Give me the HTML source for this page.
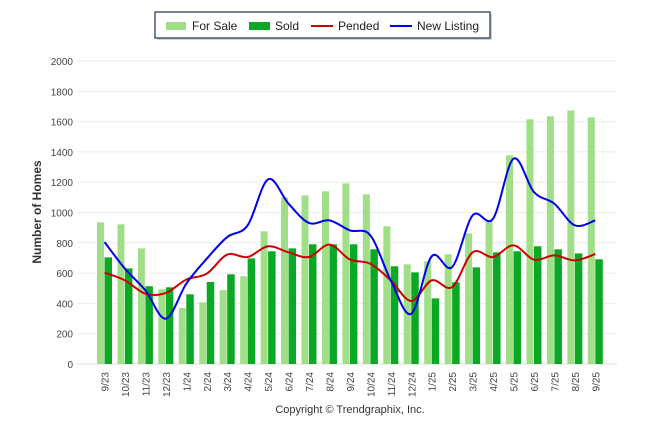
<!DOCTYPE html>
<html><head><meta charset="utf-8"><style>
body{margin:0;background:#fff;width:646px;height:434px;overflow:hidden;font-family:"Liberation Sans",sans-serif;}
</style></head><body>
<svg id="chart" width="646" height="434" xmlns="http://www.w3.org/2000/svg" font-family="Liberation Sans, sans-serif">
<g>
<rect x="157" y="14" width="335" height="26" fill="#9ba3b0" opacity="0.5"/>
<rect x="155" y="12" width="335" height="26" fill="#fff" stroke="#1f2f4f" stroke-width="1.2"/>
<rect x="166" y="22" width="20" height="8" fill="#a0df88"/>
<text x="192" y="30" font-size="12" fill="#222">For Sale</text>
<rect x="249" y="22" width="21" height="8" fill="#0aa824"/>
<text x="275" y="30" font-size="12" fill="#222">Sold</text>
<line x1="311" y1="26" x2="333" y2="26" stroke="#cc0000" stroke-width="2"/>
<text x="338" y="30" font-size="12" fill="#222">Pended</text>
<line x1="390" y1="26" x2="412" y2="26" stroke="#0000ee" stroke-width="2"/>
<text x="417" y="30" font-size="12" fill="#222">New Listing</text>
</g>
<text transform="translate(41,212) rotate(-90)" text-anchor="middle" font-size="12" font-weight="bold" fill="#333">Number of Homes</text>
<text x="350" y="413" text-anchor="middle" font-size="11" fill="#333">Copyright © Trendgraphix, Inc.</text>
<g id="grid"></g><g id="bars"></g><g id="lines"></g><g id="xl"></g>
</svg>
<script>
const categories=["9/23","10/23","11/23","12/23","1/24","2/24","3/24","4/24","5/24","6/24","7/24","8/24","9/24","10/24","11/24","12/24","1/25","2/25","3/25","4/25","5/25","6/25","7/25","8/25","9/25"];
const forSale=[935,922,763,493,370,407,488,579,876,1100,1113,1140,1192,1120,909,658,678,724,862,948,1377,1615,1635,1674,1628];
const sold=[704,631,513,506,460,541,592,697,744,763,790,790,790,757,645,605,433,539,638,737,744,777,757,730,691];
const pended=[603,552,464,469,557,596,722,706,777,737,706,788,690,662,552,416,552,508,737,706,783,689,717,684,726];
const newListing=[805,629,486,299,530,695,838,915,1219,1058,931,948,882,849,552,332,711,640,981,959,1355,1135,1058,915,948];
const yTicks=[0,200,400,600,800,1000,1200,1400,1600,1800,2000];
const NS="http://www.w3.org/2000/svg";
const y=v=>364-v*(303/2000);
const x=i=>104.5+i*20.45;
function mk(t,a,p){const e=document.createElementNS(NS,t);for(const k in a)e.setAttribute(k,a[k]);p.appendChild(e);return e;}
const grid=document.getElementById('grid'),bars=document.getElementById('bars'),lines=document.getElementById('lines'),xl=document.getElementById('xl');
yTicks.forEach(v=>{
 const l=mk('line',{x1:77,x2:617,y1:y(v),y2:y(v),stroke:v===0?'#ddd':'#ebebeb','stroke-width':1},grid);
 
 
 const t=mk('text',{x:73,y:y(v)+4,'text-anchor':'end','font-size':10,fill:'#444'},grid);
 t.textContent=v;
 
 
});
categories.forEach((c,i)=>{
 const a=mk('rect',{x:x(i)-7.5,y:y(forSale[i]),width:7,height:364-y(forSale[i]),fill:'#a0df88'},bars);
 
 
 const b=mk('rect',{x:x(i),y:y(sold[i]),width:7.5,height:364-y(sold[i]),fill:'#0aa824'},bars);
 
 
 const t=mk('text',{transform:`translate(${x(i)+4},372) rotate(-90)`,'text-anchor':'end','font-size':10,fill:'#444'},xl);
 t.textContent=c;
 
 
});
function smooth(vals){
 const p=vals.map((v,i)=>[x(i),y(v)]);let d=`M${p[0][0]},${p[0][1]}`;
 for(let i=0;i<p.length-1;i++){const p0=p[i-1]||p[i],p1=p[i],p2=p[i+1],p3=p[i+2]||p2;
 d+=` C${p1[0]+(p2[0]-p0[0])/6},${p1[1]+(p2[1]-p0[1])/6} ${p2[0]-(p3[0]-p1[0])/6},${p2[1]-(p3[1]-p1[1])/6} ${p2[0]},${p2[1]}`;}
 return d;}
const lp=mk('path',{d:smooth(pended),fill:'none',stroke:'#cc0000','stroke-width':2},lines);


const ln=mk('path',{d:smooth(newListing),fill:'none',stroke:'#0000ee','stroke-width':2},lines);


</script>
</body></html>
